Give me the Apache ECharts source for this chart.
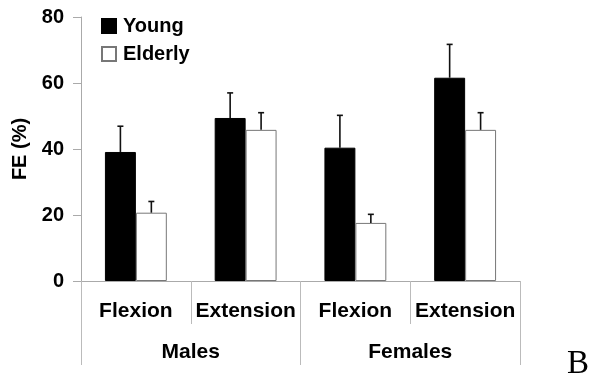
<!DOCTYPE html>
<html>
<head>
<meta charset="utf-8">
<script src="https://cdn.jsdelivr.net/npm/echarts@6/dist/echarts.min.js"></script>
<style>html,body{margin:0;padding:0;background:#fff}#c{width:597px;height:386px}</style>
</head>
<body>
<div id="c"></div>
<script>
var categories = ['Flexion', 'Extension', 'Flexion', 'Extension'];
var groups = ['Males', 'Females'];
var youngMean = [39.1, 49.4, 40.4, 61.6];
var youngErrTop = [46.9, 57.0, 50.2, 71.7];
var elderlyMean = [20.7, 45.8, 17.6, 45.8];
var elderlyErrTop = [24.1, 51.0, 20.2, 51.0];
var yTicks = [0, 20, 40, 60, 80];

var FONT = 'Arial, "Liberation Sans", sans-serif';
var BAR_FRAC = 0.282;

function errSeries(name, means, tops, side) {
  return {
    type: 'custom',
    name: name + ' err',
    xAxisIndex: 0,
    z: 5,
    silent: true,
    data: means.map(function (m, i) { return [i, m, tops[i]]; }),
    renderItem: function (params, api) {
      var i = api.value(0);
      var p0 = api.coord([i, api.value(1)]);
      var p1 = api.coord([i, api.value(2)]);
      var band = api.size([1, 0])[0];
      var x = p0[0] + side * band * BAR_FRAC / 2;
      var cap = 3;
      var st = { stroke: '#111', lineWidth: 1.6 };
      return {
        type: 'group',
        children: [
          { type: 'line', shape: { x1: x, y1: p0[1], x2: x, y2: p1[1] }, style: st },
          { type: 'line', shape: { x1: x - cap, y1: p1[1], x2: x + cap, y2: p1[1] }, style: st }
        ]
      };
    }
  };
}

var chart = echarts.init(document.getElementById('c'));
chart.setOption({
  animation: false,
  backgroundColor: '#fff',
  textStyle: { fontFamily: FONT },
  title: {
    text: 'B', right: 3, bottom: 0,
    textStyle: { fontFamily: '"Liberation Serif", "Times New Roman", serif', fontSize: 33, fontWeight: 'normal', color: '#000' }
  },
  legend: {
    orient: 'vertical', left: 101, top: 16, padding: 0,
    itemWidth: 14, itemHeight: 14, itemGap: 8,
    icon: 'rect',
    data: ['Young', 'Elderly'],
    textStyle: { fontSize: 20, fontWeight: 'bold', color: '#000', fontFamily: FONT, padding: [0, 0, 0, 2] }
  },
  grid: { left: 81, right: 77, top: 17, bottom: 105 },
  xAxis: [
    {
      type: 'category', data: categories, position: 'bottom',
      axisLine: { show: true, lineStyle: { color: '#aaa', width: 1 } },
      axisTick: { show: true, alignWithLabel: false, interval: 0, length: 43, lineStyle: { color: '#bbb' } },
      axisLabel: { interval: 0, margin: 20, fontSize: 21, fontWeight: 'bold', color: '#000', fontFamily: FONT }
    },
    {
      type: 'category', data: groups, position: 'bottom',
      axisLine: { show: false },
      axisTick: { show: true, alignWithLabel: false, interval: 0, length: 84, lineStyle: { color: '#bbb' } },
      axisLabel: { interval: 0, margin: 61, fontSize: 21, fontWeight: 'bold', color: '#000', fontFamily: FONT }
    }
  ],
  yAxis: {
    type: 'value', min: yTicks[0], max: yTicks[yTicks.length - 1], interval: 20,
    name: 'FE (%)', nameLocation: 'middle', nameGap: 50,
    nameTextStyle: { fontSize: 20, fontWeight: 'bold', color: '#000', fontFamily: FONT },
    axisLine: { show: true, lineStyle: { color: '#aaa', width: 1 } },
    axisTick: { show: true, inside: false, length: 8, lineStyle: { color: '#aaa' } },
    splitLine: { show: false },
    axisLabel: { margin: 17, fontSize: 20, fontWeight: 'bold', color: '#000', fontFamily: FONT }
  },
  series: [
    {
      name: 'Young', type: 'bar', xAxisIndex: 0, data: youngMean,
      barGap: '0%', barCategoryGap: '43.6%',
      itemStyle: { color: '#000', borderColor: '#000', borderWidth: 1 }
    },
    {
      name: 'Elderly', type: 'bar', xAxisIndex: 0, data: elderlyMean,
      barGap: '0%', barCategoryGap: '43.6%',
      itemStyle: { color: '#fff', borderColor: '#777', borderWidth: 1 }
    },
    errSeries('Young', youngMean, youngErrTop, -1),
    errSeries('Elderly', elderlyMean, elderlyErrTop, 1)
  ]
});
</script>
</body>
</html>
